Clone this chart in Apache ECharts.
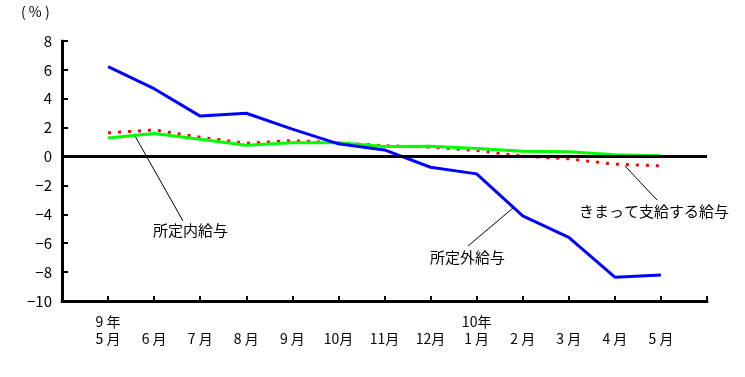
<!DOCTYPE html>
<html>
<head>
<meta charset="utf-8">
<script src="https://cdn.jsdelivr.net/npm/echarts@6/dist/echarts.min.js"></script>
<style>
    html, body { margin: 0; padding: 0; background: #fff; }
    #chart { width: 745px; height: 377px; }
</style>
</head>
<body>
<div id="chart"></div>
<script>
// 横軸 (両端は空のカテゴリ)
var months = ['', '9 年\n5 月', '\n6 月', '\n7 月', '\n8 月', '\n9 月', '\n10月', '\n11月', '\n12月',
    '10年\n1 月', '\n2 月', '\n3 月', '\n4 月', '\n5 月', ''];

// 前年同月比 (%)
var kimatte = [null, 1.64, 1.84, 1.34, 0.92, 1.1, 0.95, 0.75, 0.65, 0.42, 0.03, -0.16, -0.53, -0.64, null];
var shoteinai = [null, 1.29, 1.6, 1.2, 0.78, 0.95, 0.95, 0.69, 0.71, 0.55, 0.37, 0.33, 0.12, 0.05, null];
var shoteigai = [null, 6.23, 4.7, 2.8, 3.0, 1.9, 0.88, 0.46, -0.74, -1.2, -4.1, -5.6, -8.35, -8.2, null];

var yTicks = { min: -10, max: 8, interval: 2 };

const FONT = '"Noto Sans CJK JP", sans-serif';

var chart = echarts.init(document.getElementById('chart'));

var lineSeries = (name, data, color, type) => ({
    name: name,
    type: 'line',
    data: data,
    symbol: 'none',
    silent: true,
    animation: false,
    lineStyle: {
        color: color,
        width: 3,
        type: type || 'solid'
    }
});

var red = lineSeries('きまって支給する給与', kimatte, '#ff0000', [3, 7]);
// ゼロ線
red.markLine = {
    silent: true,
    symbol: ['none', 'none'],
    label: { show: false },
    lineStyle: { color: '#000', width: 3, type: 'solid' },
    data: [{ yAxis: 0 }]
};

var leader = (x1, y1, x2, y2) => ({
    type: 'line',
    shape: { x1: x1, y1: y1, x2: x2, y2: y2 },
    style: { stroke: '#000', lineWidth: 1 }
});

var note = (text, left, top, size) => ({
    type: 'text',
    left: left,
    top: top,
    style: { text: text, font: (size || 15) + 'px ' + FONT, fill: '#000' }
});

chart.setOption({
    animation: false,
    grid: { left: 62, right: 38, top: 41, bottom: 76 },
    xAxis: {
        type: 'category',
        data: months,
        boundaryGap: false,
        axisLine: { onZero: false, lineStyle: { color: '#000', width: 3 } },
        axisTick: { inside: true, length: 5, interval: 0, lineStyle: { color: '#000', width: 2 } },
        axisLabel: {
            interval: 0,
            margin: 12,
            color: '#000',
            fontFamily: FONT,
            fontSize: 14,
            lineHeight: 17
        }
    },
    yAxis: {
        type: 'value',
        min: yTicks.min,
        max: yTicks.max,
        interval: yTicks.interval,
        axisLine: { show: true, lineStyle: { color: '#000', width: 3 } },
        axisTick: { show: true, inside: true, length: 6, lineStyle: { color: '#000', width: 2 } },
        splitLine: { show: false },
        axisLabel: {
            margin: 10,
            color: '#000',
            fontFamily: FONT,
            fontSize: 15,
            formatter: v => String(v).replace('-', '−')
        }
    },
    series: [
        red,
        lineSeries('所定内給与', shoteinai, '#00ff00'),
        lineSeries('所定外給与', shoteigai, '#0000ff')
    ],
    graphic: [
        note('( % )', 21, 5, 14),
        leader(135, 136, 183, 221),
        note('所定内給与', 153, 223),
        leader(468, 246, 513, 208),
        note('所定外給与', 430, 250),
        leader(625, 166, 657, 200),
        note('きまって支給する給与', 579, 204)
    ]
});
</script>
</body>
</html>
